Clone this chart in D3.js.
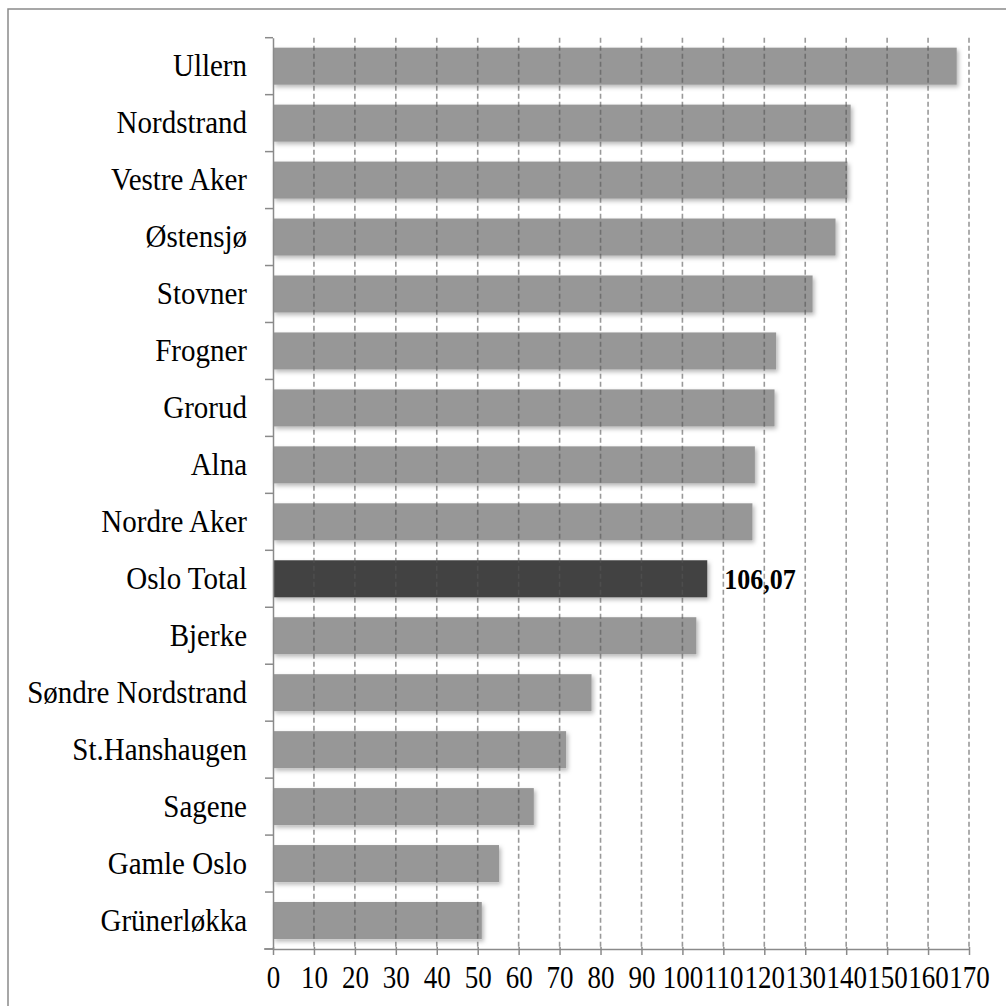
<!DOCTYPE html>
<html>
<head>
<meta charset="utf-8">
<script src="https://cdn.jsdelivr.net/npm/d3@7"></script>
<style>
html,body{margin:0;padding:0;background:#fff;}
svg{display:block;}
</style>
</head>
<body>
<svg id="chart" width="1006" height="1006"></svg>
<script>
const categories = ["Ullern","Nordstrand","Vestre Aker","Østensjø","Stovner","Frogner","Grorud","Alna","Nordre Aker","Oslo Total","Bjerke","Søndre Nordstrand","St.Hanshaugen","Sagene","Gamle Oslo","Grünerløkka"];
const values = [167.0,141.1,140.3,137.4,131.8,122.9,122.5,117.7,117.1,106.07,103.4,77.8,71.6,63.7,55.2,51.0];
const highlight = "Oslo Total";
const highlightLabel = "106,07";
const xTicks = [0,10,20,30,40,50,60,70,80,90,100,110,120,130,140,150,160,170];

(function(){
const svg = d3.select("#chart");
const pL = 273, pR = 969, pT = 37.7, pB = 949;
const serif = "'Liberation Serif', 'Times New Roman', serif";

// frame
svg.append("rect").attr("x",8).attr("y",9).attr("width",1200).attr("height",1200)
  .attr("fill","none").attr("stroke","#8a8a8a").attr("stroke-width",1.5);

const defs = svg.append("defs");
const f = defs.append("filter").attr("id","sh").attr("x","-5%").attr("y","-20%").attr("width","110%").attr("height","160%");
f.append("feDropShadow").attr("dx",2).attr("dy",2.5).attr("stdDeviation",2).attr("flood-color","#000").attr("flood-opacity",0.28);

const x = d3.scaleLinear().domain([0,170]).range([pL,pR]);
const y = d3.scaleBand().domain(categories).range([pT,pB]).paddingInner(0.35).paddingOuter(0.175);

// bars
svg.append("g").selectAll("rect").data(categories).join("rect")
  .attr("x", x(0))
  .attr("y", d => y(d))
  .attr("width", (d,i) => x(values[i]) - x(0))
  .attr("height", y.bandwidth())
  .attr("fill", d => d === highlight ? "#424242" : "#979797")
  .attr("filter","url(#sh)");

// gridlines (on top)
svg.append("g").selectAll("line").data(xTicks.filter(t => t > 0)).join("line")
  .attr("x1", d => x(d)).attr("x2", d => x(d))
  .attr("y1", pT).attr("y2", pB)
  .attr("stroke","#555").attr("stroke-opacity",0.6).attr("stroke-width",1.6)
  .attr("stroke-dasharray","5,3");

// x axis
const xAxis = svg.append("g").attr("transform",`translate(0,${pB})`)
  .call(d3.axisBottom(x).tickValues(xTicks).tickSize(6).tickPadding(7).tickSizeOuter(0));
xAxis.attr("font-family", serif);
xAxis.select(".domain").attr("stroke","#8a8a8a").attr("stroke-width",1.5);
xAxis.selectAll(".tick line").attr("stroke","#8a8a8a").attr("stroke-width",1.5).attr("y1",-2);
xAxis.selectAll(".tick text").attr("font-family", serif)
  .attr("font-size",27).attr("fill","#000").attr("transform","scale(1,1.2)");
xAxis.append("line").attr("x1",264).attr("x2",x(0)).attr("y1",0).attr("y2",0)
  .attr("stroke","#8a8a8a").attr("stroke-width",1.5);

// y axis
const yAxis = svg.append("g").attr("transform",`translate(${pL},0)`)
  .call(d3.axisLeft(y).tickSize(0).tickPadding(26).tickSizeOuter(0));
yAxis.attr("font-family", serif);
yAxis.select(".domain").attr("stroke","#8a8a8a").attr("stroke-width",1.5);
yAxis.selectAll(".tick text").attr("font-family", serif)
  .attr("font-size",29).attr("fill","#000").attr("transform","scale(1,1.1)");
// boundary ticks
const bounds = d3.range(categories.length + 1).map(i => pT + i * y.step());
yAxis.append("g").selectAll("line").data(bounds).join("line")
  .attr("x1",-8).attr("x2",0).attr("y1",d => d).attr("y2",d => d)
  .attr("stroke","#8a8a8a").attr("stroke-width",1.5);

// value label
const ly = y(highlight) + y.bandwidth()/2;
svg.append("g").attr("transform",`translate(${x(values[categories.indexOf(highlight)]) + 17},${ly}) scale(1,1.1)`)
  .append("text")
  .attr("dy","0.35em")
  .attr("font-family", serif)
  .attr("font-weight","bold").attr("font-size",26).attr("fill","#000")
  .text(highlightLabel);
})();
</script>
</body>
</html>
